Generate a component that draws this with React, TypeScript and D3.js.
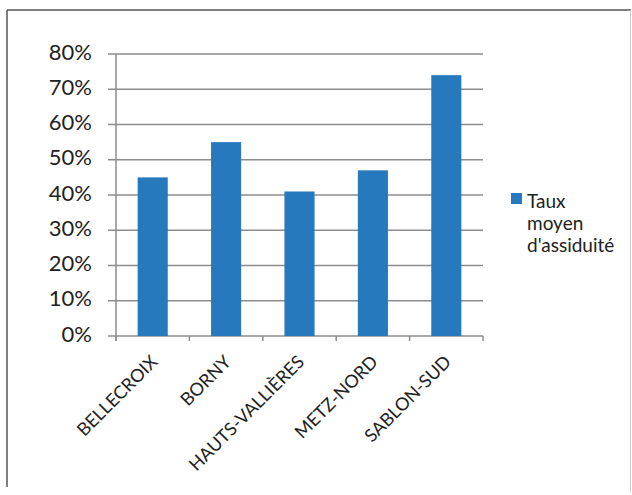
import React from "react";
import * as d3 from "d3";

const categories = ["BELLECROIX", "BORNY", "HAUTS-VALLIÈRES", "METZ-NORD", "SABLON-SUD"];
const values = [0.45, 0.55, 0.41, 0.47, 0.74];
const yTicks = [0, 0.1, 0.2, 0.3, 0.4, 0.5, 0.6, 0.7, 0.8];
const legendLines = ["Taux", "moyen", "d'assiduité"];

const W = 632;
const H = 495;
const BLUE = "#2779bd";
const GRID = "#8c8c8c";
const FONT = "Lato, 'Open Sans', sans-serif";

export default function App() {
  const x = d3.scaleBand<string>().domain(categories).range([116, 483]).paddingInner(0.59).paddingOuter(0.295);
  const y = d3.scaleLinear().domain([0, 0.8]).range([336, 54]);
  const fmt = d3.format(".0%");
  const boundaries = d3.range(categories.length + 1).map((i) => 116 + i * ((483 - 116) / categories.length));

  return (
    <svg width={W} height={H} style={{ position: "absolute", left: 0, top: 0, background: "#fff" }}>
      <rect x={0} y={0} width={W} height={H} fill="#fff" />
      <line x1={7} y1={10} x2={631} y2={10} stroke="#555" strokeWidth={1.5} />
      <line x1={7} y1={10} x2={7} y2={487} stroke="#555" strokeWidth={1.5} />
      <line x1={630.5} y1={10} x2={630.5} y2={492} stroke="#ccc" strokeWidth={1} />
      {yTicks.map((t) => (
        <g key={t}>
          <line x1={108} x2={483} y1={y(t)} y2={y(t)} stroke={GRID} strokeWidth={1.5} />
          <text x={92} y={y(t) - 2} dy="0.35em" textAnchor="end" fontFamily={FONT} fontSize={22} fill="#222">
            {fmt(t)}
          </text>
        </g>
      ))}
      <line x1={116} x2={116} y1={54} y2={341} stroke={GRID} strokeWidth={1.5} />
      {boundaries.map((b, i) => (
        <line key={i} x1={b} x2={b} y1={336} y2={341} stroke={GRID} strokeWidth={1.5} />
      ))}
      {categories.map((c, i) => (
        <rect key={c} x={x(c)} y={y(values[i])} width={x.bandwidth()} height={y(0) - y(values[i])} fill={BLUE} />
      ))}
      {categories.map((c) => {
        const cx = (x(c) as number) + x.bandwidth() / 2 + 6;
        const cy = 363;
        return (
          <text
            key={c}
            x={cx}
            y={cy}
            transform={`rotate(-45 ${cx} ${cy})`}
            textAnchor="end"
            fontFamily={FONT}
            fontSize={18}
            fill="#222"
          >
            {c}
          </text>
        );
      })}
      <rect x={511} y={193} width={11} height={11} fill={BLUE} />
      {legendLines.map((l, i) => (
        <text key={l} x={527} y={208 + i * 22} fontFamily={FONT} fontSize={19} fill="#222">
          {l}
        </text>
      ))}
    </svg>
  );
}
